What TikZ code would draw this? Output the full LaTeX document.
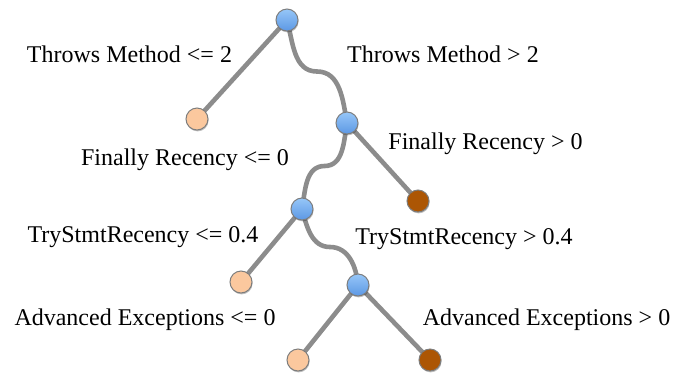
\documentclass[tikz,border=0pt]{standalone}
\usepackage{fontspec}
\setmainfont{Liberation Serif}
\usetikzlibrary{calc,shadows}
\definecolor{edgegray}{RGB}{140,140,140}
\definecolor{bordergray}{RGB}{125,125,125}
\definecolor{bluetop}{RGB}{150,198,248}
\definecolor{bluebot}{RGB}{92,152,228}
\definecolor{peach}{RGB}{251,200,158}
\definecolor{brownleaf}{RGB}{172,86,4}
\tikzset{
  tnode/.style={circle, minimum size=22pt, inner sep=0pt, draw=bordergray, line width=1pt,
    drop shadow={shadow xshift=0.6pt, shadow yshift=-1.4pt, opacity=0.25, fill=black}},
  split/.style={tnode, top color=bluetop, bottom color=bluebot},
  lowleaf/.style={tnode, fill=peach},
  highleaf/.style={tnode, fill=brownleaf},
  edge/.style={draw=edgegray, line width=4.6pt},
  lbl/.style={anchor=base, inner sep=0pt, font=\fontsize{24}{28}\selectfont}
}
\begin{document}
\begin{tikzpicture}[x=1pt,y=-1pt]
\useasboundingbox (0,0) rectangle (673,376);
% coordinates for node placement
\coordinate (proot) at (287,20);
\coordinate (pl1) at (197,119);
\coordinate (pn2) at (347,123);
\coordinate (pr2) at (418,201);
\coordinate (pn3) at (302,209);
\coordinate (pl3) at (241,282);
\coordinate (pn4) at (358,285);
\coordinate (pl4) at (298,360);
\coordinate (pr4) at (430,360);
% connectors (behind nodes)
\draw[edge] (proot) -- (pl1);
\draw[edge] (proot) to[out=-75,in=180] ($(proot)!0.5!(pn2)$) to[out=0,in=100] (pn2);
\draw[edge] (pn2) -- (pr2);
\draw[edge] (pn2) to[out=-100,in=0] ($(pn2)!0.5!(pn3)$) to[out=180,in=80] (pn3);
\draw[edge] (pn3) -- (pl3);
\draw[edge] (pn3) to[out=-75,in=180] ($(pn3)!0.5!(pn4)$) to[out=0,in=95] (pn4);
\draw[edge] (pn4) -- (pl4);
\draw[edge] (pn4) -- (pr4);
% nodes
\node[split] (root) at (proot) {};
\node[lowleaf] (l1) at (pl1) {};
\node[split] (n2) at (pn2) {};
\node[highleaf] (r2) at (pr2) {};
\node[split] (n3) at (pn3) {};
\node[lowleaf] (l3) at (pl3) {};
\node[split] (n4) at (pn4) {};
\node[lowleaf] (l4) at (pl4) {};
\node[highleaf] (r4) at (pr4) {};
% labels
\node[lbl] (t1) at (129.5,62.7) {Throws Method <= 2};
\node[lbl] (t2) at (443,62.7) {Throws Method > 2};
\node[lbl] (t3) at (185,165.7) {Finally Recency <= 0};
\node[lbl] (t4) at (485.5,149.7) {Finally Recency > 0};
\node[lbl] (t5) at (143,242.7) {TryStmtRecency <= 0.4};
\node[lbl] (t6) at (464,244.7) {TryStmtRecency > 0.4};
\node[lbl] (t7) at (145,325.7) {Advanced Exceptions <= 0};
\node[lbl] (t8) at (546.5,325.7) {Advanced Exceptions > 0};
\end{tikzpicture}
\end{document}
